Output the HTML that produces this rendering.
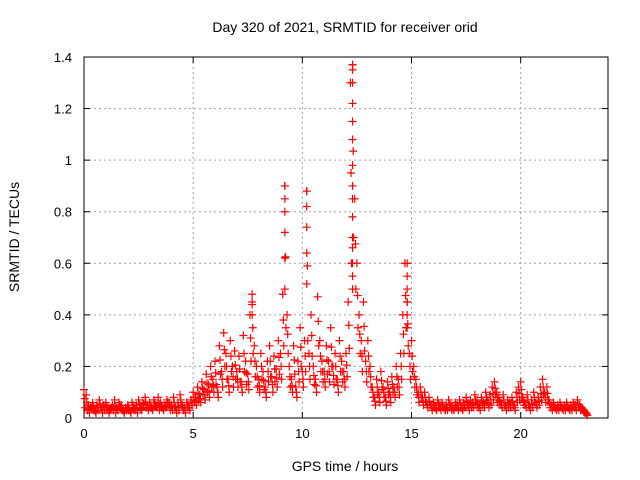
<!DOCTYPE html>
<html><head><meta charset="utf-8"><style>
html,body{margin:0;padding:0;background:#fff;}
svg{display:block;font-family:"Liberation Sans",sans-serif;}
</style></head><body>
<svg id="chart" width="640" height="480" viewBox="0 0 640 480">
<g id="grid"></g>
<g id="axes"></g>
<g id="marks"></g>
<text x="345" y="32" font-size="14" text-anchor="middle">Day 320 of 2021, SRMTID for receiver orid</text>
<text x="345" y="471" font-size="14" text-anchor="middle">GPS time / hours</text>
<text transform="translate(19,237) rotate(-90)" font-size="14" text-anchor="middle">SRMTID / TECUs</text>
</svg>
<script>
const xTicks=[0,5,10,15,20];
const yTicks=[0,0.2,0.4,0.6,0.8,1,1.2,1.4];
const yTickLabels=["0","0.2","0.4","0.6","0.8","1","1.2","1.4"];
const sampleStep=0.1;
const values=[
.11,.09,.05,.04,.06,.03,.05,.07,.04,.05,
.06,.04,.03,.05,.07,.04,.06,.05,.03,.04,
.05,.03,.06,.04,.05,.07,.04,.06,.08,.05,
.06,.04,.07,.05,.08,.06,.04,.05,.07,.06,
.05,.08,.04,.06,.09,.05,.04,.06,.05,.07,
.10,.08,.12,.09,.14,.11,.17,.13,.20,.15,
.22,.12,.28,.18,.33,.25,.15,.30,.20,.26,
.18,.24,.14,.32,.22,.17,.40,.45,.28,.20,
.15,.25,.18,.12,.22,.28,.16,.24,.19,.30,
.25,.48,.90,.40,.20,.15,.28,.12,.22,.35,
.18,.30,.88,.25,.40,.20,.15,.47,.30,.22,
.18,.28,.22,.35,.20,.25,.15,.30,.22,.18,
.25,.45,1.30,1.37,.85,.60,.40,.30,.45,.22,
.30,.20,.12,.08,.15,.10,.18,.12,.08,.14,
.10,.16,.12,.20,.15,.25,.40,.60,.45,.25,
.30,.20,.15,.10,.12,.08,.10,.06,.08,.05,
.06,.04,.07,.05,.06,.04,.05,.07,.05,.04,
.06,.05,.07,.04,.06,.08,.05,.07,.06,.09,
.07,.05,.08,.06,.10,.07,.09,.12,.14,.10,
.08,.06,.09,.05,.07,.06,.08,.05,.10,.12,
.14,.08,.06,.09,.05,.07,.10,.06,.08,.12,
.15,.10,.12,.07,.05,.06,.04,.05,.06,.04,
.05,.06,.04,.05,.06,.05,.07,.05,.04,.03,.02];
const lowValues=[
.04,.03,.02,.04,.03,.02,.03,.04,.02,.03,
.03,.02,.04,.03,.02,.03,.04,.03,.02,.03,
.03,.02,.04,.03,.02,.04,.03,.05,.04,.03,
.04,.03,.05,.04,.03,.04,.03,.04,.05,.03,
.03,.04,.02,.03,.05,.03,.02,.04,.03,.05,
.06,.05,.07,.06,.09,.07,.10,.08,.12,.10,
.13,.08,.17,.12,.20,.15,.10,.18,.12,.15,
.12,.14,.10,.18,.13,.11,.22,.25,.16,.12,
.10,.15,.11,.08,.14,.16,.10,.14,.12,.17,
.15,.28,.35,.25,.12,.10,.17,.08,.14,.20,
.12,.18,.30,.15,.24,.13,.10,.28,.18,.14,
.12,.17,.14,.20,.13,.15,.10,.18,.14,.12,
.16,.27,.60,.70,.50,.35,.25,.18,.26,.14,
.18,.12,.08,.05,.09,.06,.11,.08,.05,.09,
.06,.10,.08,.12,.09,.15,.25,.35,.28,.15,
.18,.12,.09,.06,.08,.05,.06,.04,.05,.03,
.04,.03,.04,.03,.04,.03,.03,.04,.03,.03,
.04,.03,.04,.03,.04,.05,.03,.04,.04,.05,
.04,.03,.05,.04,.06,.04,.05,.07,.09,.06,
.05,.04,.05,.03,.04,.04,.05,.03,.06,.07,
.08,.05,.04,.05,.03,.04,.06,.04,.05,.07,
.09,.06,.07,.04,.03,.04,.03,.03,.04,.03,
.03,.04,.03,.03,.04,.03,.04,.03,.03,.02,.01];
const spikeTimes=[7.7,7.7,7.7,9.2,9.2,9.2,9.2,9.2,9.2,10.2,10.2,10.2,10.2,10.2,12.3,12.3,12.3,12.3,12.3,12.3,12.3,12.3,12.3,12.3,12.3,12.3,12.3,12.3,12.3,14.8,14.8,14.8,14.8,14.8,14.8];
const spikeValues=[.48,.44,.40,.90,.85,.80,.72,.62,.50,.88,.82,.74,.64,.52,1.37,1.35,1.30,1.22,1.15,1.08,.98,.90,.85,.78,.70,.66,.60,.55,.50,.60,.55,.50,.45,.40,.35];

const NS="http://www.w3.org/2000/svg";
const L=84,R=608,T=57,B=418;
const xs=v=>L+(v/24)*(R-L);
const ys=v=>B-(v/1.4)*(B-T);
function mk(tag,attrs,parent){const e=document.createElementNS(NS,tag);for(const k in attrs)e.setAttribute(k,attrs[k]);parent.appendChild(e);return e;}
const grid=document.getElementById('grid'),axes=document.getElementById('axes'),marks=document.getElementById('marks');
xTicks.forEach(t=>{
  const x=xs(t);
  if(t>0){const g=mk('line',{x1:x,x2:x,y1:T,y2:B,stroke:'#a0a0a0','stroke-dasharray':'2,3'},grid);
  
  }
  mk('line',{x1:x,x2:x,y1:B,y2:B-6,stroke:'#000'},axes);
  mk('line',{x1:x,x2:x,y1:T,y2:T+6,stroke:'#000'},axes);
  const lb=mk('text',{x:x,y:B+20,'font-size':13,'text-anchor':'middle'},axes);
  lb.textContent=t;
  
  
});
yTicks.forEach((t,i)=>{
  const y=ys(t);
  if(t>0&&t<1.4){const g=mk('line',{x1:L,x2:R,y1:y,y2:y,stroke:'#a0a0a0','stroke-dasharray':'2,3'},grid);
  
  }
  mk('line',{x1:L,x2:L+6,y1:y,y2:y,stroke:'#000'},axes);
  mk('line',{x1:R,x2:R-6,y1:y,y2:y,stroke:'#000'},axes);
  const lb=mk('text',{x:L-12,y:y+5,'font-size':13,'text-anchor':'end'},axes);
  lb.textContent=yTickLabels[i];
  
  
});
const box=mk('rect',{x:L,y:T,width:R-L,height:B-T,fill:'none',stroke:'#000'},axes);


function cross(t,v){
  const x=xs(t),y=ys(v);
  const p=mk('path',{d:`M${x-4},${y}H${x+4}M${x},${y-4}V${y+4}`,stroke:'#ff0000','stroke-width':1.2,fill:'none'},marks);
  
  
}
values.forEach((v,i)=>cross(i*sampleStep,v));
lowValues.forEach((v,i)=>cross(i*sampleStep+0.05,v));
values.forEach((v,i)=>cross(i*sampleStep+0.03,(v+lowValues[i])/2));
spikeTimes.forEach((t,i)=>cross(t,spikeValues[i]));
</script>
</body></html>
